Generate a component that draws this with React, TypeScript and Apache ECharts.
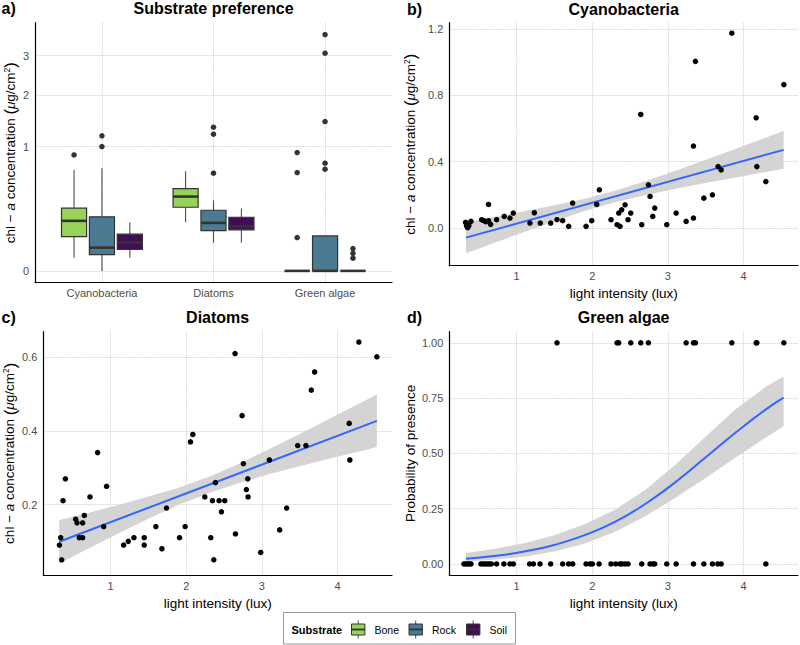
import React, { useEffect, useRef } from 'react';
import * as echarts from 'echarts';

const FONT = '"Liberation Sans", Arial, Helvetica, sans-serif';

// ---------- a) Substrate preference (boxplots on a square-root scale) ----------
const TAXA = ['Cyanobacteria', 'Diatoms', 'Green algae'];
const SUBSTRATES = ['Bone', 'Rock', 'Soil'];
const SUBSTRATE_COLORS = ['#97D35A', '#4A7B93', '#440B57'];
const SQRT_TICKS = [0, 1, 2, 3];

// [lower whisker, Q1, median, Q3, upper whisker] for Cyanobacteria, Diatoms, Green algae
const boneStats = [
  [0.011, 0.076, 0.162, 0.254, 0.66],
  [0.153, 0.262, 0.357, 0.438, 0.643],
  [0, 0, 0, 0, 0],
];
const rockStats = [
  [0.0, 0.017, 0.035, 0.189, 0.682],
  [0.051, 0.105, 0.149, 0.238, 0.323],
  [0, 0, 0, 0.079, 0.079],
];
const soilStats = [
  [0.011, 0.03, 0.053, 0.087, 0.151],
  [0.051, 0.109, 0.129, 0.186, 0.251],
  [0, 0, 0, 0, 0],
];
const boneOutliers = [[0.87], [], [0.072, 0.625, 0.906]];
const rockOutliers = [[1.0, 1.18], [0.617, 1.208, 1.335], [0.669, 0.75, 1.443, 3.065, 3.613]];
const soilOutliers = [[], [], [0.0104, 0.02, 0.032]];

// ---------- b) Cyanobacteria ----------
const cyanoLight = [0.325, 0.338, 0.352, 0.369, 0.396, 0.537, 0.568, 0.594, 0.629, 0.629, 0.656, 0.735, 0.837, 0.912, 0.956, 1.176, 1.234, 1.313, 1.45, 1.534, 1.609, 1.688, 1.741, 1.918, 1.993, 2.059, 2.094, 2.248, 2.328, 2.35, 2.367, 2.389, 2.434, 2.473, 2.509, 2.641, 2.654, 2.742, 2.764, 2.8, 2.826, 2.985, 3.109, 3.241, 3.338, 3.338, 3.364, 3.475, 3.589, 3.664, 3.704, 3.845, 4.167, 4.176, 4.295, 4.533];
const cyanoChl = [0.034, 0.014, 0.002, 0.014, 0.04, 0.05, 0.044, 0.038, 0.142, 0.044, 0.022, 0.05, 0.07, 0.06, 0.09, 0.03, 0.092, 0.03, 0.03, 0.05, 0.044, 0.01, 0.15, 0.01, 0.044, 0.142, 0.23, 0.05, 0.02, 0.09, 0.01, 0.11, 0.14, 0.05, 0.09, 0.684, 0.02, 0.26, 0.19, 0.07, 0.12, 0.02, 0.09, 0.04, 0.06, 0.494, 1.004, 0.18, 0.2, 0.37, 0.35, 1.174, 0.664, 0.37, 0.28, 0.864];
const cyanoFitX = [0.33, 4.53];
const cyanoFitY = [-0.058, 0.471];
const cyanoBandX = [0.33, 0.7, 1.1, 1.5, 1.9, 2.3, 2.7, 3.1, 3.5, 3.9, 4.3, 4.53];
const cyanoBandLow = [-0.152, -0.09, -0.024, 0.041, 0.102, 0.155, 0.198, 0.236, 0.271, 0.305, 0.338, 0.357];
const cyanoBandHigh = [0.036, 0.066, 0.101, 0.137, 0.177, 0.225, 0.282, 0.345, 0.411, 0.478, 0.546, 0.585];

// ---------- c) Diatoms ----------
const diaLight = [0.323, 0.34, 0.353, 0.371, 0.402, 0.538, 0.556, 0.586, 0.63, 0.63, 0.652, 0.727, 0.828, 0.908, 0.947, 1.172, 1.233, 1.308, 1.444, 1.444, 1.598, 1.678, 1.739, 1.911, 1.985, 2.056, 2.087, 2.245, 2.324, 2.346, 2.364, 2.386, 2.434, 2.465, 2.509, 2.645, 2.65, 2.738, 2.755, 2.795, 2.813, 2.817, 2.984, 3.099, 3.235, 3.327, 3.473, 3.582, 3.653, 3.697, 4.154, 4.163, 4.282, 4.52];
const diaChl = [0.091, 0.111, 0.051, 0.211, 0.27, 0.161, 0.151, 0.111, 0.151, 0.111, 0.171, 0.221, 0.341, 0.141, 0.25, 0.091, 0.101, 0.111, 0.111, 0.091, 0.141, 0.081, 0.191, 0.111, 0.141, 0.37, 0.39, 0.221, 0.111, 0.211, 0.051, 0.26, 0.211, 0.181, 0.211, 0.609, 0.121, 0.441, 0.311, 0.241, 0.27, 0.221, 0.071, 0.321, 0.132, 0.191, 0.36, 0.36, 0.51, 0.559, 0.42, 0.321, 0.64, 0.6];
const diaFitX = [0.32, 4.52];
const diaFitY = [0.1, 0.427];
const diaBandX = [0.32, 0.7, 1.1, 1.5, 1.9, 2.3, 2.7, 3.1, 3.5, 3.9, 4.3, 4.52];
const diaBandLow = [0.041, 0.081, 0.122, 0.162, 0.2, 0.232, 0.259, 0.283, 0.304, 0.325, 0.345, 0.356];
const diaBandHigh = [0.159, 0.178, 0.199, 0.222, 0.246, 0.276, 0.311, 0.351, 0.391, 0.433, 0.475, 0.498];

// ---------- d) Green algae (presence / absence with logistic fit) ----------
const greenLight = [0.303, 0.325, 0.352, 0.374, 0.396, 0.528, 0.559, 0.585, 0.612, 0.638, 0.665, 0.735, 0.832, 0.912, 0.956, 1.172, 1.221, 1.309, 1.45, 1.534, 1.609, 1.688, 1.741, 1.918, 1.97, 2.001, 2.09, 2.248, 2.31, 2.328, 2.35, 2.367, 2.394, 2.434, 2.473, 2.509, 2.641, 2.654, 2.742, 2.764, 2.8, 2.826, 2.985, 3.109, 3.241, 3.338, 3.338, 3.364, 3.475, 3.589, 3.66, 3.704, 3.845, 4.167, 4.176, 4.295, 4.533];
const greenPresence = [0, 0, 0, 0, 0, 0, 0, 0, 0, 0, 0, 0, 0, 0, 0, 0, 0, 0, 0, 1, 0, 0, 0, 0, 0, 0, 0, 0, 0, 1, 1, 0, 0, 0, 0, 1, 1, 0, 1, 0, 0, 0, 0, 0, 1, 0, 1, 1, 0, 0, 0, 0, 1, 1, 1, 0, 1];
const greenFitX = [0.33, 0.7, 1.1, 1.5, 1.9, 2.3, 2.7, 3.1, 3.5, 3.9, 4.3, 4.53];
const greenFitY = [0.024, 0.036, 0.056, 0.086, 0.13, 0.19, 0.271, 0.37, 0.482, 0.595, 0.7, 0.752];
const greenBandLow = [0.011, 0.019, 0.033, 0.056, 0.092, 0.146, 0.216, 0.299, 0.389, 0.482, 0.573, 0.622];
const greenBandHigh = [0.05, 0.067, 0.094, 0.13, 0.179, 0.245, 0.334, 0.448, 0.576, 0.7, 0.802, 0.848];

const LIGHT_TICKS = [1, 2, 3, 4];

// panel rectangles (plot areas)
const GRIDS = [
  { left: 35, top: 22.7, width: 357, height: 260 },
  { left: 449.3, top: 22.7, width: 348.7, height: 243 },
  { left: 43.3, top: 331.7, width: 348.7, height: 243.3 },
  { left: 449.3, top: 331.7, width: 348.7, height: 243.3 },
];

const DODGE = [-0.25, 0, 0.25];
const BOX_WIDTH = 0.225;
const BAND_COLOR = '#d4d4d4';
const FIT_COLOR = '#3366FF';

const zip = (xs: number[], ys: number[]) => xs.map((x, i) => [x, ys[i]]);

const splitLine = { show: true, lineStyle: { color: '#c9c9c9', width: 0.9, type: 'dotted' as const } };
const axisLine = { show: true, onZero: false, lineStyle: { color: '#000', width: 1.2 } };
const labelStyle = { color: '#4d4d4d', fontSize: 11, fontFamily: FONT };

const chlName = '{n|chl − }{i|a}{n| concentration }{p|(}{i|μ}{n|g/cm}{s|2}{p|)}';
const chlRich = {
  n: { fontSize: 13.5, fontFamily: FONT, color: '#000', lineHeight: 16 },
  i: { fontSize: 13.5, fontFamily: FONT, color: '#000', fontStyle: 'italic' as const, lineHeight: 16 },
  p: { fontSize: 16.5, fontFamily: FONT, color: '#000', lineHeight: 16 },
  s: { fontSize: 8.5, fontFamily: FONT, color: '#000', verticalAlign: 'top' as const, lineHeight: 11 },
};

function lightAxis(gridIndex: number) {
  return {
    type: 'value' as const,
    gridIndex,
    min: 0.11,
    max: 4.72,
    axisLine,
    axisTick: { show: false, customValues: LIGHT_TICKS },
    axisLabel: { ...labelStyle, margin: 5, customValues: LIGHT_TICKS, formatter: (v: number) => String(v) },
    splitLine,
    name: 'light intensity (lux)',
    nameLocation: 'middle' as const,
    nameGap: 21,
    nameTextStyle: { fontSize: 13.5, fontFamily: FONT, color: '#000' },
  };
}

function valueAxis(gridIndex: number, min: number, max: number, ticks: number[], digits: number, name: string, gap: number, rich?: any) {
  return {
    type: 'value' as const,
    gridIndex,
    min,
    max,
    axisLine,
    axisTick: { show: false, customValues: ticks },
    axisLabel: { ...labelStyle, margin: 6, customValues: ticks, formatter: (v: number) => v.toFixed(digits) },
    splitLine,
    name,
    nameLocation: 'middle' as const,
    nameRotate: 90,
    nameGap: gap,
    nameTextStyle: rich ? { rich } : { fontSize: 13.5, fontFamily: FONT, color: '#000' },
  };
}

// confidence ribbon: one polygon through the upper edge and back along the lower edge
function bandSeries(idx: number, xs: number[], lo: number[], hi: number[]) {
  return {
    type: 'custom', xAxisIndex: idx, yAxisIndex: idx, silent: true, z: 1,
    data: xs.map((x, i) => [x, lo[i], hi[i]]),
    encode: { x: 0, y: [1, 2] },
    renderItem: (params: any, api: any) => {
      if (params.dataIndex !== 0) return null;
      const upper = xs.map((x, i) => api.coord([x, hi[i]]));
      const lower = xs.map((x, i) => api.coord([x, lo[i]])).reverse();
      return {
        type: 'polygon',
        shape: { points: [...upper, ...lower] },
        style: { fill: BAND_COLOR, stroke: null },
      };
    },
  };
}

function fitSeries(idx: number, xs: number[], ys: number[], smooth: boolean) {
  return {
    type: 'line', xAxisIndex: idx, yAxisIndex: idx, data: zip(xs, ys), symbol: 'none', smooth,
    silent: true, lineStyle: { color: FIT_COLOR, width: 2 }, z: 3,
  };
}

function pointSeries(idx: number, xs: number[], ys: number[]) {
  return {
    type: 'scatter', xAxisIndex: idx, yAxisIndex: idx, data: zip(xs, ys), symbolSize: 5.5,
    itemStyle: { color: '#000', opacity: 1 }, silent: true, z: 4,
  };
}

function boxSeries(s: number, stats: number[][]) {
  const data = stats.map((st, t) => [t + 1 + DODGE[s], ...st.map(Math.sqrt)]);
  return {
    type: 'custom', name: SUBSTRATES[s], xAxisIndex: 0, yAxisIndex: 0, silent: true, z: 2,
    encode: { x: 0, y: [1, 2, 3, 4, 5] },
    data,
    renderItem: (_params: any, api: any) => {
      const x = api.value(0);
      const pt = (k: number) => api.coord([x, api.value(k)]);
      const [cx, yLo] = pt(1);
      const yQ1 = pt(2)[1];
      const yMed = pt(3)[1];
      const yQ3 = pt(4)[1];
      const yHi = pt(5)[1];
      const w = api.size([BOX_WIDTH, 0])[0];
      const stroke = '#333333';
      return {
        type: 'group',
        children: [
          { type: 'line', shape: { x1: cx, y1: yHi, x2: cx, y2: yQ3 }, style: { stroke: '#4d4d4d', lineWidth: 1.1 } },
          { type: 'line', shape: { x1: cx, y1: yQ1, x2: cx, y2: yLo }, style: { stroke: '#4d4d4d', lineWidth: 1.1 } },
          {
            type: 'rect', shape: { x: cx - w / 2, y: yQ3, width: w, height: yQ1 - yQ3 },
            style: { fill: SUBSTRATE_COLORS[s], stroke, lineWidth: 1.2 },
          },
          { type: 'line', shape: { x1: cx - w / 2, y1: yMed, x2: cx + w / 2, y2: yMed }, style: { stroke, lineWidth: 2.6 } },
        ],
      };
    },
  };
}

function outlierSeries() {
  const pts: number[][] = [];
  [boneOutliers, rockOutliers, soilOutliers].forEach((bySub, s) => {
    bySub.forEach((vals, t) => vals.forEach((v) => pts.push([t + 1 + DODGE[s], Math.sqrt(v)])));
  });
  return {
    type: 'scatter', xAxisIndex: 0, yAxisIndex: 0, data: pts, symbolSize: 5.5,
    itemStyle: { color: '#333333', opacity: 1 }, silent: true, z: 3,
  };
}

function panelHeader(g: { left: number; width: number }, y: number, letter: string, title: string, letterX: number) {
  return [
    {
      type: 'text', x: letterX, y,
      style: { text: letter, font: `bold 16px ${FONT}`, fill: '#000', verticalAlign: 'middle', align: 'left' },
    },
    {
      type: 'text', x: g.left + g.width / 2, y,
      style: { text: title, font: `bold 16px ${FONT}`, fill: '#000', verticalAlign: 'middle', align: 'center' },
    },
  ];
}

function legendGraphic() {
  const children: any[] = [
    { type: 'rect', shape: { x: 283.5, y: 612.5, width: 232, height: 31.5 }, style: { fill: '#fff', stroke: '#8c8c8c', lineWidth: 0.9 } },
    {
      type: 'text', x: 291.5, y: 629.5,
      style: { text: 'Substrate', font: `bold 11px ${FONT}`, fill: '#000', verticalAlign: 'middle' },
    },
  ];
  const keyX = [351.5, 409, 466.5];
  SUBSTRATES.forEach((name, s) => {
    const kx = keyX[s];
    const cx = kx + 6.7;
    children.push(
      { type: 'line', shape: { x1: cx, y1: 620.5, x2: cx, y2: 624 }, style: { stroke: '#4d4d4d', lineWidth: 1 } },
      { type: 'line', shape: { x1: cx, y1: 635, x2: cx, y2: 638.5 }, style: { stroke: '#4d4d4d', lineWidth: 1 } },
      { type: 'rect', shape: { x: kx, y: 624, width: 13.4, height: 11 }, style: { fill: SUBSTRATE_COLORS[s], stroke: '#333333', lineWidth: 1 } },
      { type: 'line', shape: { x1: kx, y1: 629.5, x2: kx + 13.4, y2: 629.5 }, style: { stroke: '#333333', lineWidth: 1.8 } },
      {
        type: 'text', x: kx + 23, y: 629.5,
        style: { text: name, font: `10.5px ${FONT}`, fill: '#000', verticalAlign: 'middle' },
      },
    );
  });
  return { type: 'group', children };
}

export default function App() {
  const ref = useRef<HTMLDivElement>(null);

  useEffect(() => {
    if (!ref.current) return;
    const chart = echarts.init(ref.current, undefined, { renderer: 'svg' });

    const option: any = {
      animation: false,
      backgroundColor: '#fff',
      textStyle: { fontFamily: FONT },
      grid: GRIDS.map((g) => ({ ...g, containLabel: false, outerBoundsMode: 'none' })),
      xAxis: [
        {
          type: 'value', gridIndex: 0, min: 0.4, max: 3.6,
          axisLine,
          axisTick: { show: false, customValues: [1, 2, 3] },
          axisLabel: { ...labelStyle, margin: 5, customValues: [1, 2, 3], formatter: (v: number) => TAXA[Math.round(v) - 1] },
          splitLine,
        },
        lightAxis(1),
        lightAxis(2),
        lightAxis(3),
      ],
      yAxis: [
        {
          type: 'value', gridIndex: 0, min: -0.095, max: 1.996,
          axisLine,
          axisTick: { show: false, customValues: SQRT_TICKS.map(Math.sqrt) },
          axisLabel: {
            ...labelStyle, margin: 6, customValues: SQRT_TICKS.map(Math.sqrt),
            formatter: (v: number) => String(Math.round(v * v)),
          },
          splitLine,
          name: chlName, nameLocation: 'middle', nameRotate: 90, nameGap: 16,
          nameTextStyle: { rich: chlRich },
        },
        valueAxis(1, -0.227, 1.237, [0, 0.4, 0.8, 1.2], 1, chlName, 31, chlRich),
        valueAxis(2, 0.01, 0.668, [0.2, 0.4, 0.6], 1, chlName, 24.5, chlRich),
        valueAxis(3, -0.05, 1.05, [0, 0.25, 0.5, 0.75, 1], 2, 'Probability of presence', 30),
      ],
      series: [
        boxSeries(0, boneStats),
        boxSeries(1, rockStats),
        boxSeries(2, soilStats),
        outlierSeries(),
        bandSeries(1, cyanoBandX, cyanoBandLow, cyanoBandHigh),
        fitSeries(1, cyanoFitX, cyanoFitY, false),
        pointSeries(1, cyanoLight, cyanoChl),
        bandSeries(2, diaBandX, diaBandLow, diaBandHigh),
        fitSeries(2, diaFitX, diaFitY, false),
        pointSeries(2, diaLight, diaChl),
        bandSeries(3, greenFitX, greenBandLow, greenBandHigh),
        fitSeries(3, greenFitX, greenFitY, true),
        pointSeries(3, greenLight, greenPresence),
      ],
      graphic: [
        ...panelHeader(GRIDS[0], 8.5, 'a)', 'Substrate preference', 1.5),
        ...panelHeader(GRIDS[1], 9.5, 'b)', 'Cyanobacteria', 407),
        ...panelHeader(GRIDS[2], 317, 'c)', 'Diatoms', 1.5),
        ...panelHeader(GRIDS[3], 317, 'd)', 'Green algae', 407),
        legendGraphic(),
      ],
    };

    chart.setOption(option);
    return () => chart.dispose();
  }, []);

  return (
    <div
      ref={ref}
      style={{ position: 'fixed', left: 0, top: 0, width: 800, height: 645, background: '#fff' }}
    />
  );
}
